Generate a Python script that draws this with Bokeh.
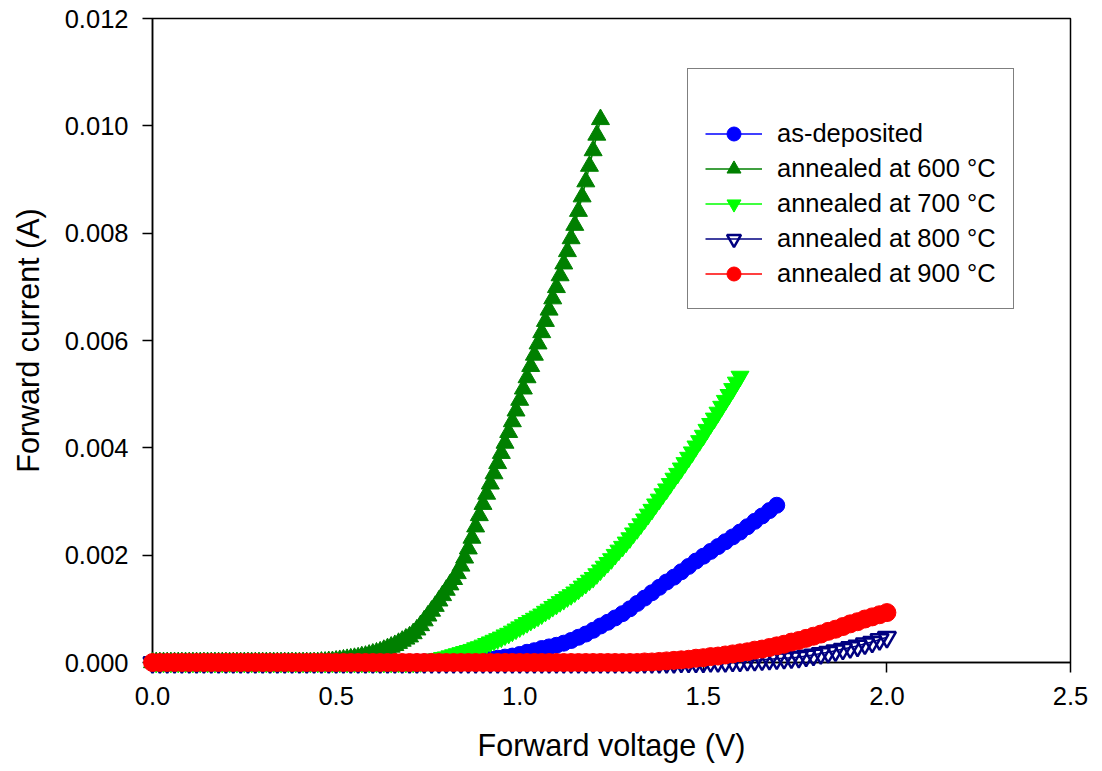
from bokeh.plotting import figure
from bokeh.models import Range1d, FixedTicker, PrintfTickFormatter, Legend, LegendItem
from bokeh.embed import file_html
from bokeh.resources import INLINE

# ---------------- data ----------------
X_TICKS = [0.0, 0.5, 1.0, 1.5, 2.0, 2.5]
Y_TICKS = [0.000, 0.002, 0.004, 0.006, 0.008, 0.010, 0.012]

SERIES_NAMES = ["as-deposited", "annealed at 600 \u00b0C", "annealed at 700 \u00b0C",
                "annealed at 800 \u00b0C", "annealed at 900 \u00b0C"]

# voltage sweep, 0.01 V step (used by the 600 and 700 C curves)
VOLT_01 = [
    0.00, 0.01, 0.02, 0.03, 0.04, 0.05, 0.06, 0.07, 0.08, 0.09,
    0.10, 0.11, 0.12, 0.13, 0.14, 0.15, 0.16, 0.17, 0.18, 0.19,
    0.20, 0.21, 0.22, 0.23, 0.24, 0.25, 0.26, 0.27, 0.28, 0.29,
    0.30, 0.31, 0.32, 0.33, 0.34, 0.35, 0.36, 0.37, 0.38, 0.39,
    0.40, 0.41, 0.42, 0.43, 0.44, 0.45, 0.46, 0.47, 0.48, 0.49,
    0.50, 0.51, 0.52, 0.53, 0.54, 0.55, 0.56, 0.57, 0.58, 0.59,
    0.60, 0.61, 0.62, 0.63, 0.64, 0.65, 0.66, 0.67, 0.68, 0.69,
    0.70, 0.71, 0.72, 0.73, 0.74, 0.75, 0.76, 0.77, 0.78, 0.79,
    0.80, 0.81, 0.82, 0.83, 0.84, 0.85, 0.86, 0.87, 0.88, 0.89,
    0.90, 0.91, 0.92, 0.93, 0.94, 0.95, 0.96, 0.97, 0.98, 0.99,
    1.00, 1.01, 1.02, 1.03, 1.04, 1.05, 1.06, 1.07, 1.08, 1.09,
    1.10, 1.11, 1.12, 1.13, 1.14, 1.15, 1.16, 1.17, 1.18, 1.19,
    1.20, 1.21, 1.22, 1.23, 1.24, 1.25, 1.26, 1.27, 1.28, 1.29,
    1.30, 1.31, 1.32, 1.33, 1.34, 1.35, 1.36, 1.37, 1.38, 1.39,
    1.40, 1.41, 1.42, 1.43, 1.44, 1.45, 1.46, 1.47, 1.48, 1.49,
    1.50, 1.51, 1.52, 1.53, 1.54, 1.55, 1.56, 1.57, 1.58, 1.59,
    1.60,
]

# voltage sweep, 0.02 V step (as-deposited, 800 and 900 C curves)
VOLT_02 = [
    0.00, 0.02, 0.04, 0.06, 0.08, 0.10, 0.12, 0.14, 0.16, 0.18,
    0.20, 0.22, 0.24, 0.26, 0.28, 0.30, 0.32, 0.34, 0.36, 0.38,
    0.40, 0.42, 0.44, 0.46, 0.48, 0.50, 0.52, 0.54, 0.56, 0.58,
    0.60, 0.62, 0.64, 0.66, 0.68, 0.70, 0.72, 0.74, 0.76, 0.78,
    0.80, 0.82, 0.84, 0.86, 0.88, 0.90, 0.92, 0.94, 0.96, 0.98,
    1.00, 1.02, 1.04, 1.06, 1.08, 1.10, 1.12, 1.14, 1.16, 1.18,
    1.20, 1.22, 1.24, 1.26, 1.28, 1.30, 1.32, 1.34, 1.36, 1.38,
    1.40, 1.42, 1.44, 1.46, 1.48, 1.50, 1.52, 1.54, 1.56, 1.58,
    1.60, 1.62, 1.64, 1.66, 1.68, 1.70, 1.72, 1.74, 1.76, 1.78,
    1.80, 1.82, 1.84, 1.86, 1.88, 1.90, 1.92, 1.94, 1.96, 1.98,
    2.00,
]

# forward current (A)
I_ASDEP = [  # on VOLT_02, 0.00 .. 1.70 V
    0.0, 0.0, 0.0, 0.0, 0.0, 0.0, 0.0, 0.0, 0.0, 0.0,
    0.0, 0.0, 0.0, 0.0, 0.0, 0.0, 0.0, 0.0, 0.0, 0.0,
    0.0, 0.0, 0.0, 0.0, 0.0, 0.0, 0.0, 0.0, 0.0, 0.0,
    0.0, 0.0, 0.0, 0.0, 0.0, 0.0, 0.00001, 0.00001, 0.00002, 0.00002,
    0.00002, 0.00003, 0.00003, 0.00004, 0.00005, 0.00005, 0.00006, 0.00008, 0.00010, 0.00012,
    0.00015, 0.00019, 0.00022, 0.00026, 0.00029, 0.00032, 0.00036, 0.00041, 0.00047, 0.00053,
    0.00060, 0.00068, 0.00075, 0.00083, 0.00091, 0.00100, 0.00110, 0.00120, 0.00130, 0.00140,
    0.00150, 0.00159, 0.00169, 0.00179, 0.00189, 0.00198, 0.00207, 0.00216, 0.00225, 0.00234,
    0.00243, 0.00253, 0.00263, 0.00273, 0.00283, 0.00293,
]

I_600 = [  # on VOLT_01, 0.00 .. 1.22 V
    0.0, 0.0, 0.0, 0.0, 0.0, 0.0, 0.0, 0.0, 0.0, 0.0,
    0.0, 0.0, 0.0, 0.0, 0.0, 0.0, 0.0, 0.0, 0.0, 0.0,
    0.0, 0.0, 0.0, 0.0, 0.0, 0.0, 0.0, 0.0, 0.0, 0.0,
    0.0, 0.0, 0.0, 0.0, 0.0, 0.0, 0.0, 0.0, 0.0, 0.0,
    0.0, 0.0, 0.0, 0.0, 0.0, 0.0, 0.00001, 0.00001, 0.00002, 0.00002,
    0.00003, 0.00004, 0.00005, 0.00006, 0.00007, 0.00008, 0.00009, 0.00011, 0.00012, 0.00014,
    0.00016, 0.00018, 0.00020, 0.00023, 0.00026, 0.00029, 0.00032, 0.00036, 0.00040, 0.00044,
    0.00048, 0.00054, 0.00061, 0.00069, 0.00078, 0.00087, 0.00096, 0.00105, 0.00115, 0.00125,
    0.00135, 0.00145, 0.00155, 0.00166, 0.00180, 0.00195, 0.00212, 0.00232, 0.00253, 0.00274,
    0.00295, 0.00314, 0.00333, 0.00352, 0.00371, 0.00390, 0.00409, 0.00429, 0.00449, 0.00469,
    0.00489, 0.00510, 0.00531, 0.00552, 0.00573, 0.00594, 0.00615, 0.00636, 0.00657, 0.00678,
    0.00699, 0.00721, 0.00743, 0.00766, 0.00790, 0.00815, 0.00841, 0.00868, 0.00896, 0.00925,
    0.00954, 0.00983, 0.01012,
]

I_700 = [  # on VOLT_01, 0.00 .. 1.60 V
    0.0, 0.0, 0.0, 0.0, 0.0, 0.0, 0.0, 0.0, 0.0, 0.0,
    0.0, 0.0, 0.0, 0.0, 0.0, 0.0, 0.0, 0.0, 0.0, 0.0,
    0.0, 0.0, 0.0, 0.0, 0.0, 0.0, 0.0, 0.0, 0.0, 0.0,
    0.0, 0.0, 0.0, 0.0, 0.0, 0.0, 0.0, 0.0, 0.0, 0.0,
    0.0, 0.0, 0.0, 0.0, 0.0, 0.0, 0.0, 0.0, 0.0, 0.0,
    0.0, 0.0, 0.0, 0.0, 0.0, 0.0, 0.0, 0.0, 0.0, 0.0,
    0.0, 0.0, 0.0, 0.0, 0.0, 0.0, 0.0, 0.0, 0.0, 0.0,
    0.0, 0.0, 0.0, 0.00001, 0.00002, 0.00003, 0.00004, 0.00006, 0.00007, 0.00009,
    0.00010, 0.00012, 0.00014, 0.00016, 0.00018, 0.00020, 0.00022, 0.00024, 0.00027, 0.00029,
    0.00032, 0.00035, 0.00038, 0.00041, 0.00044, 0.00047, 0.00051, 0.00054, 0.00058, 0.00062,
    0.00066, 0.00070, 0.00074, 0.00078, 0.00082, 0.00086, 0.00090, 0.00095, 0.00099, 0.00104,
    0.00108, 0.00113, 0.00117, 0.00122, 0.00126, 0.00131, 0.00136, 0.00142, 0.00147, 0.00153,
    0.00158, 0.00165, 0.00172, 0.00179, 0.00186, 0.00193, 0.00201, 0.00209, 0.00216, 0.00224,
    0.00232, 0.00241, 0.00249, 0.00258, 0.00267, 0.00276, 0.00285, 0.00295, 0.00304, 0.00314,
    0.00323, 0.00333, 0.00343, 0.00352, 0.00362, 0.00372, 0.00382, 0.00392, 0.00403, 0.00413,
    0.00423, 0.00434, 0.00445, 0.00455, 0.00466, 0.00477, 0.00488, 0.00499, 0.00510, 0.00522,
    0.00533,
]

I_800 = [  # on VOLT_02, 0.00 .. 2.00 V
    0.0, 0.0, 0.0, 0.0, 0.0, 0.0, 0.0, 0.0, 0.0, 0.0,
    0.0, 0.0, 0.0, 0.0, 0.0, 0.0, 0.0, 0.0, 0.0, 0.0,
    0.0, 0.0, 0.0, 0.0, 0.0, 0.0, 0.0, 0.0, 0.0, 0.0,
    0.0, 0.0, 0.0, 0.0, 0.0, 0.0, 0.0, 0.0, 0.0, 0.0,
    0.0, 0.0, 0.0, 0.0, 0.0, 0.0, 0.0, 0.0, 0.0, 0.0,
    0.0, 0.0, 0.0, 0.0, 0.0, 0.0, 0.0, 0.0, 0.0, 0.0,
    0.0, 0.0, 0.0, 0.0, 0.0, 0.0, 0.0, 0.0, 0.0, 0.0,
    0.0, 0.0, 0.00001, 0.00001, 0.00001, 0.00001, 0.00002, 0.00002, 0.00002, 0.00003,
    0.00003, 0.00004, 0.00004, 0.00005, 0.00006, 0.00007, 0.00008, 0.00009, 0.00010, 0.00012,
    0.00014, 0.00017, 0.00019, 0.00022, 0.00025, 0.00028, 0.00031, 0.00035, 0.00038, 0.00043,
    0.00047,
]

I_900 = [  # on VOLT_02, 0.00 .. 2.00 V
    0.0, 0.0, 0.0, 0.0, 0.0, 0.0, 0.0, 0.0, 0.0, 0.0,
    0.0, 0.0, 0.0, 0.0, 0.0, 0.0, 0.0, 0.0, 0.0, 0.0,
    0.0, 0.0, 0.0, 0.0, 0.0, 0.0, 0.0, 0.0, 0.0, 0.0,
    0.0, 0.0, 0.0, 0.0, 0.0, 0.0, 0.0, 0.0, 0.0, 0.0,
    0.0, 0.0, 0.0, 0.0, 0.0, 0.0, 0.0, 0.0, 0.0, 0.0,
    0.0, 0.0, 0.0, 0.0, 0.0, 0.0, 0.0, 0.0, 0.0, 0.0,
    0.0, 0.0, 0.0, 0.0, 0.0, 0.0, 0.0, 0.00001, 0.00001, 0.00002,
    0.00003, 0.00004, 0.00005, 0.00006, 0.00008, 0.00009, 0.00011, 0.00012, 0.00014, 0.00016,
    0.00018, 0.00020, 0.00023, 0.00025, 0.00028, 0.00031, 0.00034, 0.00038, 0.00041, 0.00045,
    0.00049, 0.00053, 0.00058, 0.00062, 0.00067, 0.00072, 0.00076, 0.00081, 0.00085, 0.00089,
    0.00093,
]

# ---------------- figure ----------------
FONT = "Liberation Sans"

p = figure(width=1094, height=770,
           x_range=Range1d(0, 2.5), y_range=Range1d(0, 0.012),
           output_backend="svg", toolbar_location=None,
           min_border_left=152, min_border_right=24,
           min_border_top=18, min_border_bottom=108)
p.grid.visible = False
p.background_fill_color = "white"
p.border_fill_color = "white"
p.outline_line_color = "black"
p.outline_line_width = 1.5

styles = [
    # x values, y values, marker, line colour, fill colour, fill alpha, size, marker line width
    (VOLT_02[:len(I_ASDEP)], I_ASDEP, "circle", "#0000FF", "#0000FF", 1.0, 16, 1),
    (VOLT_01[:len(I_600)], I_600, "triangle", "#008000", "#008000", 1.0, 18, 1),
    (VOLT_01[:len(I_700)], I_700, "inverted_triangle", "#00FF00", "#00FF00", 1.0, 18, 1),
    (VOLT_02[:len(I_800)], I_800, "inverted_triangle", "#000080", "#FFFFFF", 0.0, 18, 2.5),
    (VOLT_02[:len(I_900)], I_900, "circle", "#FF0000", "#FF0000", 1.0, 18, 1),
]

items = []
for name, (xs, ys, marker, lc, fc, fa, size, mlw) in zip(SERIES_NAMES, styles):
    r_line = p.line(xs, ys, line_color=lc, line_width=1.5, level="overlay")
    r_pts = p.scatter(xs, ys, marker=marker, size=size, line_color=lc,
                      fill_color=fc, fill_alpha=fa, line_width=mlw, level="overlay")
    items.append(LegendItem(label=name, renderers=[r_line, r_pts]))

legend = Legend(items=items, location=(535, 353),
                title="\u00a0", title_text_font=FONT, title_text_font_size="22px",
                title_standoff=4,
                label_text_font=FONT, label_text_font_size="25.5px",
                label_text_color="black",
                glyph_width=57, glyph_height=35, label_height=35,
                spacing=0, padding=17, margin=0, label_standoff=15,
                border_line_color="black", border_line_width=1.5,
                background_fill_color="white", background_fill_alpha=1.0)
p.add_layout(legend)

p.xaxis.ticker = FixedTicker(ticks=X_TICKS)
p.yaxis.ticker = FixedTicker(ticks=Y_TICKS)
p.xaxis.formatter = PrintfTickFormatter(format="%.1f")
p.yaxis.formatter = PrintfTickFormatter(format="%.3f")
p.xaxis.axis_label = "Forward voltage (V)"
p.yaxis.axis_label = "Forward current (A)"

for ax in (p.xaxis[0], p.yaxis[0]):
    ax.axis_line_color = "black"
    ax.axis_line_width = 1.5
    ax.major_tick_line_color = "black"
    ax.major_tick_line_width = 1.5
    ax.major_tick_out = 10
    ax.major_tick_in = 0
    ax.minor_tick_out = 0
    ax.minor_tick_in = 0
    ax.major_label_text_font = FONT
    ax.major_label_text_font_size = "25.5px"
    ax.major_label_text_color = "black"
    ax.axis_label_text_font = FONT
    ax.axis_label_text_font_size = "30.5px"
    ax.axis_label_text_font_style = "normal"
    ax.axis_label_text_color = "black"

p.xaxis.major_label_standoff = 14
p.yaxis.major_label_standoff = 14
p.xaxis.axis_label_standoff = 20
p.yaxis.axis_label_standoff = 17

open("out.html", "w").write(file_html(p, INLINE))
